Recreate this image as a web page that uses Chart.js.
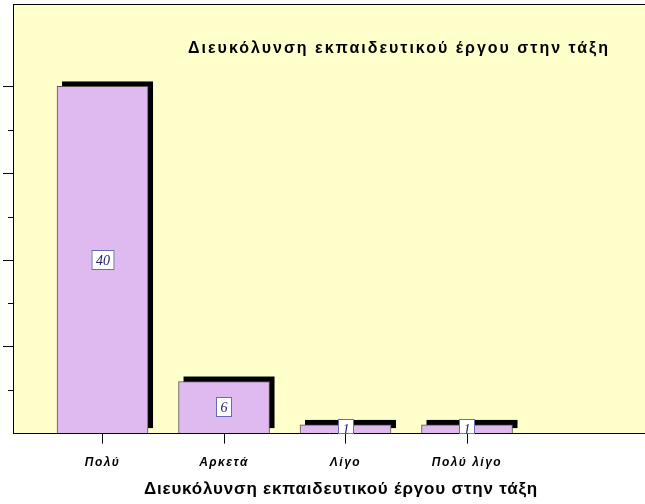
<!DOCTYPE html>
<html lang="el">
<head>
  <meta charset="UTF-8">
  <title>Διευκόλυνση εκπαιδευτικού έργου στην τάξη</title>
  <script src="https://cdn.jsdelivr.net/npm/chart.js"></script>
  <style>
    html, body { margin: 0; padding: 0; background: #fff; }
    #wrap { width: 645px; height: 504px; position: relative; }
  </style>
</head>
<body>
  <div id="wrap"><canvas id="chart"></canvas></div>

  <script>
    const categories = ['Πολύ', 'Αρκετά', 'Λίγο', 'Πολύ λίγο'];
    const counts = [40, 6, 1, 1];
    const chartTitle = 'Διευκόλυνση εκπαιδευτικού έργου στην τάξη';
    const axisTitle = 'Διευκόλυνση εκπαιδευτικού έργου στην τάξη';

    // background, bar shadows, value boxes, minor ticks and titles
    const decor = {
      id: 'decor',
      beforeDraw(chart) {
        const { ctx, chartArea: a } = chart;
        ctx.save();
        ctx.fillStyle = '#ffffcc';
        ctx.fillRect(a.left, a.top, a.right - a.left, a.bottom - a.top);
        ctx.restore();
        ctx.letterSpacing = '1.5px'; // spaced category labels
      },
      beforeDatasetsDraw(chart) {
        const { ctx, chartArea: a } = chart;
        ctx.letterSpacing = '0px';
        // drop shadow: the bar shifted 5px right and 5px up
        ctx.save();
        ctx.beginPath();
        ctx.rect(a.left, a.top, a.right - a.left, a.bottom - a.top);
        ctx.clip();
        ctx.fillStyle = '#000';
        chart.getDatasetMeta(0).data.forEach(bar => {
          const left = bar.x - bar.width / 2 + 5;
          const top = Math.min(bar.y, bar.base) - 5;
          const h = Math.abs(bar.base - bar.y);
          ctx.fillRect(left, top, bar.width, h);
        });
        ctx.restore();
      },
      afterDatasetsDraw(chart) {
        const { ctx, chartArea: a } = chart;
        ctx.save();
        ctx.beginPath();
        ctx.rect(a.left, a.top, a.right - a.left, a.bottom - a.top);
        ctx.clip();
        ctx.font = 'italic 14px "Liberation Serif"';
        ctx.textAlign = 'center';
        ctx.textBaseline = 'middle';
        chart.getDatasetMeta(0).data.forEach((bar, i) => {
          const txt = String(counts[i]);
          const cx = Math.round(bar.x);
          const cy = Math.round((bar.y + bar.base) / 2);
          const w = Math.round(ctx.measureText(txt).width) + 9;
          const h = 20;
          ctx.fillStyle = '#fff';
          ctx.fillRect(cx - w / 2, cy - h / 2, w, h);
          ctx.strokeStyle = '#6a6aae';
          ctx.lineWidth = 1;
          ctx.strokeRect(cx - w / 2 + 0.5, cy - h / 2 + 0.5, w - 1, h - 1);
          ctx.fillStyle = '#23236e';
          ctx.fillText(txt, cx, cy + 1);
        });
        ctx.restore();
      },
      afterDraw(chart) {
        const { ctx, chartArea: a } = chart;
        const y = chart.scales.y;
        ctx.save();
        ctx.strokeStyle = '#000';
        ctx.lineWidth = 1;
        ctx.beginPath();
        ctx.moveTo(a.left, a.top + 0.5);
        ctx.lineTo(a.right, a.top + 0.5);
        y.ticks.forEach(t => {
          if (t.value % 10 !== 0 && t.value < 40) {
            const py = Math.round(y.getPixelForValue(t.value)) + 0.5;
            ctx.moveTo(a.left - 5, py);
            ctx.lineTo(a.left, py);
          }
        });
        ctx.stroke();

        ctx.fillStyle = '#000';
        ctx.textAlign = 'center';
        ctx.textBaseline = 'middle';
        ctx.letterSpacing = '2px';
        ctx.font = 'bold 16px "Liberation Sans"';
        ctx.fillText(chartTitle, 399, 49);
        ctx.letterSpacing = '0.8px';
        ctx.font = 'bold 17px "Liberation Sans"';
        ctx.fillText(axisTitle, 341, 489);
        ctx.restore();
      }
    };

    new Chart(document.getElementById('chart'), {
      type: 'bar',
      data: {
        datasets: [{
          data: counts.map((v, i) => ({ x: i, y: v })),
          backgroundColor: '#debaf1',
          borderColor: '#555',
          borderWidth: 1,
          barThickness: 91
        }]
      },
      options: {
        responsive: true,
        maintainAspectRatio: false,
        animation: false,
        layout: { padding: { left: 3, top: 4, right: 0, bottom: 22 } },
        plugins: {
          legend: { display: false },
          tooltip: { enabled: false }
        },
        scales: {
          x: {
            type: 'linear',
            min: -0.737,
            max: 4.465,
            offset: false,
            afterBuildTicks: scale => {
              scale.ticks = categories.map((c, i) => ({ value: i }));
            },
            grid: { offset: false, drawOnChartArea: false, tickLength: 10, tickColor: '#000' },
            border: { color: '#000' },
            ticks: {
              callback: v => categories[v] ?? '',
              padding: 12,
              autoSkip: false,
              maxRotation: 0,
              color: '#000',
              font: { family: 'Liberation Sans', size: 12, style: 'italic', weight: 'bold' }
            }
          },
          y: {
            min: 0,
            max: 49.5,
            ticks: { display: false, stepSize: 5 },
            grid: {
              drawOnChartArea: false,
              tickLength: 10,
              tickColor: c => (c.tick && c.tick.value % 10 === 0 && c.tick.value > 0) ? '#000' : 'transparent'
            },
            border: { color: '#000' }
          }
        }
      },
      plugins: [decor]
    });
  </script>
</body>
</html>
